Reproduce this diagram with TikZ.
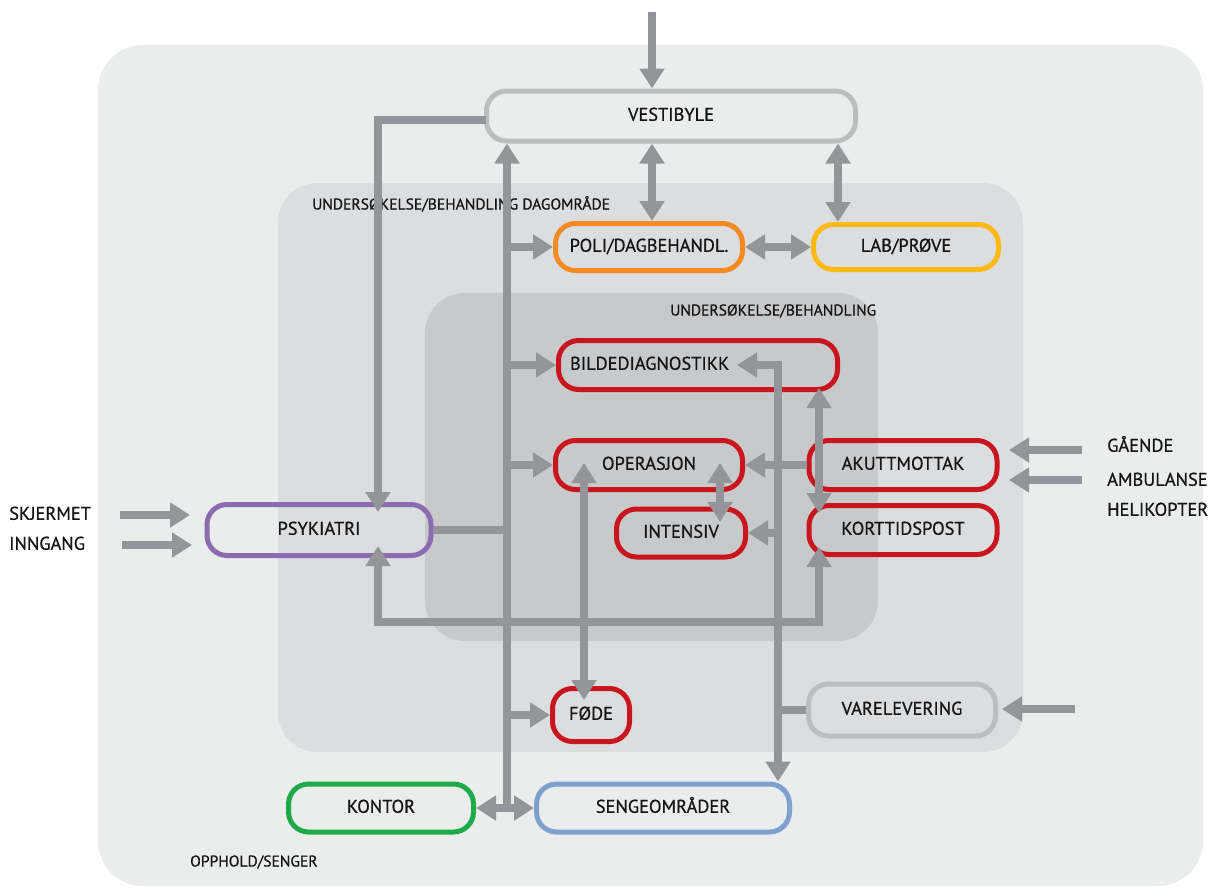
\documentclass[tikz,border=0pt]{standalone}
\usepackage{fontspec}
\setmainfont{PT Sans}
\newfontfamily\diagfont{PT Sans}[FakeBold=0.7]
\usetikzlibrary{arrows.meta}
\definecolor{bgouter}{HTML}{EBECEC}
\definecolor{bgmid}{HTML}{DCDDDF}
\definecolor{bginner}{HTML}{C8C9CB}
\definecolor{arrowgray}{HTML}{939598}
\definecolor{lightgray}{HTML}{BCBDBF}
\definecolor{orangeb}{HTML}{F58A22}
\definecolor{yellowb}{HTML}{FDBA12}
\definecolor{redb}{HTML}{C9161E}
\definecolor{purpleb}{HTML}{8C6CB0}
\definecolor{greenb}{HTML}{1FAA4A}
\definecolor{blueb}{HTML}{7F9FCC}
\definecolor{textc}{HTML}{151515}
\tikzset{
  tip/.tip={Triangle[width=24pt,length=20pt]},
  conn/.style={draw=arrowgray, line width=8.5pt},
  arr/.style={conn, -tip},
  darr/.style={conn, tip-tip},
  box/.style={draw=#1, line width=5pt, rounded corners=20pt, inner sep=0pt,
    text=textc, font=\diagfont\fontsize{18.4}{20}\selectfont, text height=0.95em, text depth=0pt},
  lbl/.style={inner sep=0pt, text=textc, font=\diagfont\fontsize{18.4}{20}\selectfont, text height=0.95em, text depth=0pt, anchor=west},
  region/.style={inner sep=0pt, text=textc, font=\diagfont\fontsize{15.6}{17}\selectfont, text height=0.9em, text depth=0pt, anchor=west},
}
\begin{document}
\begin{tikzpicture}[x=1pt,y=-1pt]
\useasboundingbox (0,0) rectangle (1221,887);
% background regions
\fill[bgouter, rounded corners=45pt] (98,45) rectangle (1203,886);
\fill[bgmid, rounded corners=40pt] (278,183) rectangle (1023,752);
\fill[bginner, rounded corners=40pt] (425,293) rectangle (878,641);

\node[region] (rDag) at (312,205) {UNDERSØKELSE/BEHANDLING DAGOMRÅDE};
\node[region] (rUnd) at (670,311) {UNDERSØKELSE/BEHANDLING};
\node[region] (rOpp) at (190,862) {OPPHOLD/SENGER};

% boxes
\node[box=lightgray, minimum width=369pt, minimum height=50pt] (vest) at (671,116) {VESTIBYLE};
\node[box=orangeb, minimum width=187pt, minimum height=47pt] (poli) at (649,247) {POLI/DAGBEHANDL.};
\node[box=yellowb, minimum width=185pt, minimum height=45pt] (lab) at (906,247) {LAB/PRØVE};
\node[box=redb, minimum width=279pt, minimum height=49pt, text width=256pt, align=left] (bild) at (698,365) {BILDEDIAGNOSTIKK};
\node[box=redb, minimum width=187pt, minimum height=49pt] (oper) at (649,465) {OPERASJON};
\node[box=redb, minimum width=188pt, minimum height=49pt] (akut) at (903,465) {AKUTTMOTTAK};
\node[box=redb, minimum width=129pt, minimum height=48pt] (intens) at (681,533) {INTENSIV};
\node[box=redb, minimum width=188pt, minimum height=49pt] (kort) at (903,530) {KORTTIDSPOST};
\node[box=purpleb, minimum width=224pt, minimum height=51pt] (psyk) at (319,530) {PSYKIATRI};
\node[box=redb, minimum width=77pt, minimum height=53pt] (fode) at (591,715) {FØDE};
\node[box=lightgray, minimum width=187pt, minimum height=52pt] (vare) at (902,710) {VARELEVERING};
\node[box=greenb, minimum width=185pt, minimum height=48pt] (kontor) at (381,808) {KONTOR};
\node[box=blueb, minimum width=253pt, minimum height=48pt] (senge) at (663,808) {SENGEOMRÅDER};

% outside labels
\node[lbl] (tSk) at (9,515) {SKJERMET};
\node[lbl] (tInn) at (9,545) {INNGANG};
\node[lbl] (tGa) at (1107,447) {GÅENDE};
\node[lbl] (tAm) at (1107,481) {AMBULANSE};
\node[lbl] (tHe) at (1107,511) {HELIKOPTER};

% helper coordinates
\coordinate (topin) at (652,12);
\coordinate (xT) at (507,812);
\coordinate (psykTop) at (378,512);
\coordinate (psykBot) at (378,546);
\coordinate (loopY) at (0,622);
\coordinate (kortBot) at (819,547);
\coordinate (xVP) at (652,0);
\coordinate (xVL) at (838,0);
\coordinate (vestOut) at (486,120);
\coordinate (bildIn) at (737,365);
\coordinate (xR) at (778,365);
\coordinate (bkTop) at (819,388);
\coordinate (bkBot) at (819,513);
\coordinate (oiTop) at (720,463);
\coordinate (oiBot) at (720,522);
\coordinate (ofTop) at (584,463);
\coordinate (ofBot) at (584,700);
\coordinate (sk1) at (120,515);
\coordinate (sk1e) at (190,515);
\coordinate (sk2) at (122,545);
\coordinate (sk2e) at (192,545);
\coordinate (ga1) at (1082,450);
\coordinate (ga1e) at (1009,450);
\coordinate (am1) at (1082,480);
\coordinate (am1e) at (1009,480);
\coordinate (va1) at (1075,709);
\coordinate (va1e) at (1002,709);

% connectors
\draw[arr] (topin) -- (topin |- vest.north);
\draw[arr] (vestOut) -| (psykTop);
\draw[darr] (psykBot) -- (psykBot |- loopY) -- (kortBot |- loopY) -- (kortBot);
\draw[arr] (xT) -- (xT |- vest.south);
\draw[arr] (xT |- poli.west) -- (poli.west);
\draw[arr] (xT |- bild.west) -- (bild.west);
\draw[arr] (xT |- oper.west) -- (oper.west);
\draw[arr] (xT |- fode.west) -- (fode.west);
\draw[conn] (psyk.east) -- (xT |- psyk.east);
\draw[darr] (kontor.east) -- (senge.west);
\draw[darr] (xVP |- vest.south) -- (xVP |- poli.north);
\draw[darr] (xVL |- vest.south) -- (xVL |- lab.north);
\draw[darr] (poli.east) -- (lab.west);
\draw[darr] (bildIn) -- (xR) -- (xR |- senge.north);
\draw[arr] (akut.west) -- (oper.east);
\draw[arr] (xR |- intens.east) -- (intens.east);
\draw[conn] (vare.west) -- (xR |- vare.west);
\draw[darr] (bkTop) -- (bkBot);
\draw[darr] (oiTop) -- (oiBot);
\draw[darr] (ofTop) -- (ofBot);
\draw[arr] (sk1) -- (sk1e);
\draw[arr] (sk2) -- (sk2e);
\draw[arr] (ga1) -- (ga1e);
\draw[arr] (am1) -- (am1e);
\draw[arr] (va1) -- (va1e);
\end{tikzpicture}
\end{document}
